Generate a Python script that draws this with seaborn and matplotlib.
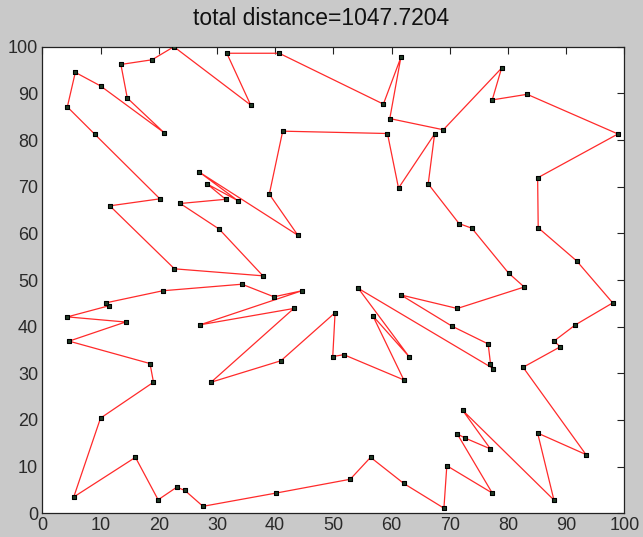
import matplotlib
matplotlib.use("Agg")
import matplotlib.pyplot as plt
import seaborn as sns
import pandas as pd

# city coordinates in visiting order of the tour
tour_x = [5.4, 10.0, 19.1, 18.5, 4.6, 14.3, 4.3, 11.5, 10.9, 20.7,
          34.3, 39.8, 44.6, 27.1, 43.2, 29.0, 41.0, 50.3, 49.9, 51.8,
          62.1, 56.8, 63.0, 54.3, 77.5, 77.0, 76.6, 70.4, 61.6, 71.3,
          82.8, 80.1, 73.8, 71.6, 66.3, 67.4, 61.2, 59.3, 41.3, 39.0,
          43.9, 27.0, 33.6, 28.3, 31.5, 23.7, 30.4, 37.9, 22.7, 11.6,
          20.2, 9.05, 4.3, 5.67, 10.0, 20.9, 14.6, 13.5, 18.85, 22.6,
          35.8, 31.7, 40.7, 58.6, 61.6, 59.7, 68.9, 78.9, 77.3, 83.3,
          98.9, 85.1, 85.2, 91.8, 98.0, 91.6, 87.9, 89.0, 82.6, 93.4,
          85.1, 87.9, 72.2, 77.0, 72.7, 71.3, 77.3, 69.5, 69.0, 62.1,
          56.4, 52.9, 40.2, 27.6, 24.5, 23.1, 19.9, 16.0]
tour_y = [3.5, 20.4, 28.1, 32.1, 36.9, 41.0, 42.1, 44.5, 45.1, 47.7,
          49.1, 46.4, 47.7, 40.4, 43.9, 28.1, 32.7, 43.0, 33.6, 34.0,
          28.6, 42.3, 33.6, 48.2, 31.0, 32.1, 36.3, 40.1, 46.8, 43.9,
          48.5, 51.5, 61.1, 62.1, 70.6, 81.3, 69.7, 81.4, 81.9, 68.4,
          59.6, 73.1, 67.0, 70.6, 67.3, 66.4, 60.9, 50.9, 52.4, 65.9,
          67.4, 81.2, 87.1, 94.5, 91.6, 81.6, 89.0, 96.2, 97.2, 100.0,
          87.5, 98.6, 98.6, 87.7, 97.7, 84.6, 82.2, 95.4, 88.6, 89.8,
          81.3, 71.9, 61.2, 54.1, 45.1, 40.4, 36.9, 35.7, 31.3, 12.6,
          17.2, 2.85, 22.1, 13.8, 16.1, 17.0, 4.35, 10.2, 1.1, 6.4,
          12.0, 7.3, 4.35, 1.5, 4.9, 5.6, 2.9, 12.0]
total_distance = "1047.7204"
ticks = list(range(0, 101, 10))

cities = pd.DataFrame({"x": tour_x, "y": tour_y})
# close the loop back to the starting city
route = pd.concat([cities, cities.iloc[[0]]], ignore_index=True)

sns.set_style("white")
plt.rcParams["font.family"] = ["Liberation Sans", "DejaVu Sans"]

fig = plt.figure(figsize=(6.43, 5.37), dpi=100, facecolor="#c9c9c9")
ax = fig.add_axes([0.0658, 0.0441, 0.9052, 0.8689])
ax.set_facecolor("white")

sns.lineplot(data=route, x="x", y="y", sort=False, estimator=None,
             color="#ff2a2a", linewidth=0.9, ax=ax, zorder=2)
sns.scatterplot(data=cities, x="x", y="y", marker="s", s=10,
                color="#1f3a24", edgecolor="black", linewidth=0.8,
                ax=ax, zorder=3)

ax.set_xlim(0, 100)
ax.set_ylim(0, 100)
ax.set_xticks(ticks)
ax.set_yticks(ticks)
ax.set_xlabel("")
ax.set_ylabel("")
ax.tick_params(direction="in", length=5, width=0.8, top=True, right=True,
               labelsize=13, labelcolor="#2a2a2a", color="#222222", pad=3)
for side in ax.spines.values():
    side.set_visible(True)
    side.set_color("#222222")
    side.set_linewidth(0.9)

fig.text(0.5, 0.966, f"total distance={total_distance}", ha="center",
         va="center", fontsize=16.5, color="#111111")

fig.savefig("out.png", dpi=100, facecolor=fig.get_facecolor())
